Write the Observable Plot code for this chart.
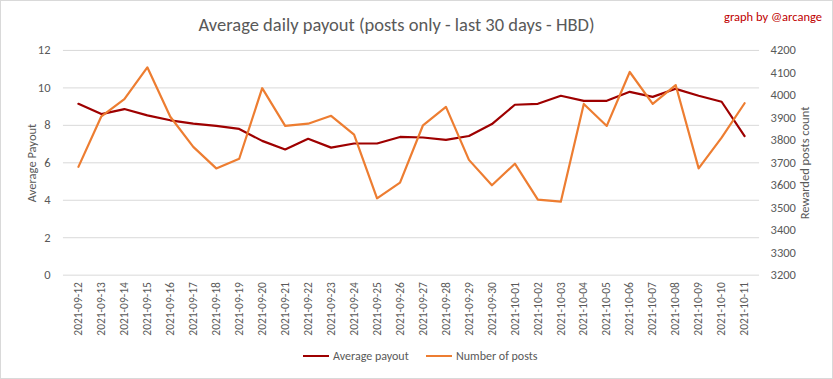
<!DOCTYPE html>
<html><head><meta charset="utf-8">
<script src="https://cdn.jsdelivr.net/npm/d3@7"></script>
<script src="https://cdn.jsdelivr.net/npm/@observablehq/plot@0.6"></script>
<style>
body{margin:0;background:#fff;}
#wrap{position:relative;width:831px;height:377px;border:1px solid #d9d9d9;overflow:hidden;font-family:Carlito,Lato,sans-serif;color:#595959;background:#fff;}
#title{position:absolute;left:0;width:791px;top:12px;text-align:center;font-size:18.5px;color:#595959;}
#credit{position:absolute;right:10px;top:8px;font-size:12.5px;color:#c00000;}
#plot{position:absolute;left:-1px;top:-1px;}
.ylab{position:absolute;font-size:12.5px;color:#595959;white-space:nowrap;transform:translate(-50%,-50%) rotate(-90deg);}
#legend{position:absolute;top:348px;left:0;width:833px;font-size:12px;color:#595959;}
.item{position:absolute;white-space:nowrap;}
.sw{display:inline-block;width:26px;height:2px;vertical-align:middle;margin-right:4px;position:relative;top:-1px;}
</style></head>
<body>
<div id="wrap">
  <div id="title">Average daily payout (posts only - last 30 days - HBD)</div>
  <div id="credit">graph by @arcange</div>
  <div id="plot"></div>
  <div class="ylab" style="left:30px;top:162px;">Average Payout</div>
  <div class="ylab" style="left:803px;top:162px;">Rewarded posts count</div>
  <div id="legend">
    <div class="item" style="left:302px;"><span class="sw" style="background:#9e0000"></span>Average payout</div>
    <div class="item" style="left:425px;"><span class="sw" style="background:#ed7d31"></span>Number of posts</div>
  </div>
</div>
<script>
const dates = ["2021-09-12","2021-09-13","2021-09-14","2021-09-15","2021-09-16","2021-09-17","2021-09-18","2021-09-19","2021-09-20","2021-09-21","2021-09-22","2021-09-23","2021-09-24","2021-09-25","2021-09-26","2021-09-27","2021-09-28","2021-09-29","2021-09-30","2021-10-01","2021-10-02","2021-10-03","2021-10-04","2021-10-05","2021-10-06","2021-10-07","2021-10-08","2021-10-09","2021-10-10","2021-10-11"];
const avgPayout = [9.15,8.60,8.87,8.53,8.27,8.09,7.97,7.81,7.17,6.71,7.28,6.81,7.03,7.03,7.38,7.35,7.22,7.43,8.07,9.10,9.15,9.58,9.31,9.31,9.79,9.52,9.95,9.58,9.26,7.43];
const numPosts = [3682,3907,3983,4125,3905,3771,3675,3718,4032,3864,3874,3909,3825,3542,3612,3867,3949,3713,3600,3696,3536,3527,3962,3864,4104,3962,4046,3675,3812,3965];
const leftTicks = [0,2,4,6,8,10,12];
const rightTicks = [3200,3300,3400,3500,3600,3700,3800,3900,4000,4100,4200];

const rMin = 3200, rMax = 4200, lMax = 12;
const toLeft = v => (v - rMin) / (rMax - rMin) * lMax;

const payoutData = dates.map((d, i) => ({date: d, v: avgPayout[i]}));
const postsData = dates.map((d, i) => ({date: d, v: toLeft(numPosts[i])}));

const chart = Plot.plot({
  width: 833,
  height: 340,
  marginLeft: 63,
  marginRight: 73,
  marginTop: 50,
  marginBottom: 65,
  style: {fontFamily: "Carlito, Lato, sans-serif", fontSize: "12px", color: "#595959", background: "transparent"},
  x: {type: "point", domain: dates, padding: 0.5},
  y: {domain: [0, lMax]},
  marks: [
    Plot.gridY(leftTicks, {stroke: "#d9d9d9", strokeOpacity: 1, strokeWidth: 1}),
    Plot.axisY(leftTicks, {anchor: "left", tickSize: 0, tickPadding: 13, label: null, fill: "#595959", fontSize: 12.5}),
    Plot.axisY(rightTicks.map(toLeft), {anchor: "right", tickSize: 0, tickPadding: 11, label: null, tickFormat: d => String(Math.round(rMin + d / lMax * (rMax - rMin))), fill: "#595959", fontSize: 12.5}),
    Plot.axisX({tickSize: 0, tickPadding: 7, tickRotate: -90, label: null, fill: "#595959", fontSize: 11.5}),
    Plot.line(payoutData, {x: "date", y: "v", stroke: "#9e0000", strokeWidth: 2.2}),
    Plot.line(postsData, {x: "date", y: "v", stroke: "#ed7d31", strokeWidth: 2.2})
  ]
});
document.getElementById("plot").appendChild(chart);
</script>
</body></html>
